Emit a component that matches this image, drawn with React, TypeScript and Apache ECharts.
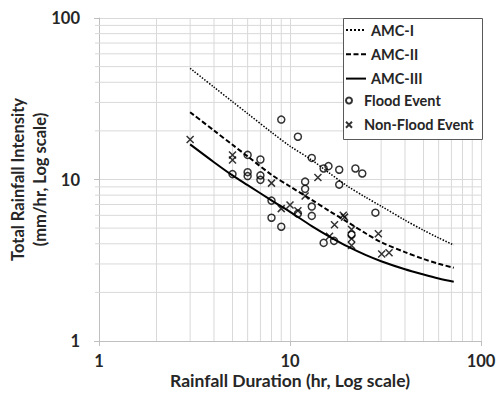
import React, { useEffect, useRef } from "react";
import * as echarts from "echarts";

// Curves (duration in hr, intensity in mm/hr)
const curveX = [3, 4, 5, 6, 8, 10, 13, 16, 20, 25, 30, 40, 50, 60, 72];
const amc1 = [48.8, 37.3, 30.3, 25.6, 19.6, 16.1, 13.2, 11.0, 9.1, 7.74, 6.84, 5.6, 4.85, 4.35, 3.93];
const amc2 = [26.1, 20.1, 16.4, 13.9, 10.7, 9.05, 7.48, 6.4, 5.45, 4.63, 4.09, 3.55, 3.22, 3.01, 2.84];
const amc3 = [16.5, 12.8, 10.6, 9.23, 7.43, 6.3, 5.15, 4.45, 3.85, 3.4, 3.12, 2.78, 2.58, 2.44, 2.33];

// Flood events
const floodX = [9, 11, 13, 15, 15.9, 18.1, 22, 23.9, 18.1, 6, 7, 5, 6, 6, 7, 7, 12, 12, 8, 13, 11, 13, 8, 9, 15, 17, 21, 28];
const floodY = [23.5, 18.4, 13.6, 11.7, 12.1, 11.5, 11.7, 10.9, 9.3, 14.2, 13.3, 10.8, 11.1, 10.5, 10.6, 9.95, 9.7, 8.75, 7.4, 6.8, 6.15, 5.95, 5.8, 5.1, 4.05, 4.17, 4.55, 6.23];

// Non-flood events
const nonFloodX = [3, 5, 5, 8, 9, 10, 11, 12, 14, 17.1, 19, 19.3, 16.1, 21, 21, 21, 29, 30.2, 33];
const nonFloodY = [17.7, 14.2, 13.2, 9.5, 6.6, 6.95, 6.4, 7.9, 10.3, 5.25, 6.0, 5.85, 4.45, 4.9, 4.3, 3.9, 4.62, 3.46, 3.52];

// Minor gridline values
const minorGrid = [2, 3, 4, 5, 6, 7, 8, 9, 20, 30, 40, 50, 60, 70, 80, 90];
const axisMin = 1;
const axisMax = 100;

const FONT = "Lato";
const TXT = "#262626";
const GRID = "#d9d9d9";
const BOX = { x: 343.5, y: 18.5, w: 138, h: 118 };

export default function App() {
  const ref = useRef<HTMLDivElement>(null);
  useEffect(() => {
    if (!ref.current) return;
    const chart = echarts.init(ref.current, undefined, { renderer: "svg" });
    const pair = (xs: number[], ys: number[]) => xs.map((x, i) => [x, ys[i]]);
    const lineSeries = (name: string, ys: number[], type: any, width: number) => ({
      name,
      type: "line",
      data: pair(curveX, ys),
      symbol: "none",
      smooth: 0.3,
      z: 3,
      lineStyle: { color: "#000", width, type },
      itemStyle: { color: "#000" },
    });
    const legendText = {
      fontFamily: FONT,
      fontWeight: "bold",
      fontSize: 14.5,
      color: TXT,
      lineHeight: 14,
      width: 108,
      overflow: "none",
    };
    const boxBottom = BOX.y + BOX.h;
    chart.setOption({
      animation: false,
      backgroundColor: "#fff",
      textStyle: { fontFamily: FONT },
      grid: { left: 99, right: 18, top: 18, bottom: 52, containLabel: false, outerBoundsMode: "none" },
      xAxis: {
        type: "log",
        logBase: 10,
        min: axisMin,
        max: axisMax,
        name: "Rainfall Duration (hr, Log scale)",
        nameLocation: "middle",
        nameGap: 30,
        nameMoveOverlap: false,
        nameTextStyle: { fontFamily: FONT, fontWeight: "bold", fontSize: 17.5, color: TXT },
        axisLine: { lineStyle: { color: "#bfbfbf" } },
        axisTick: { show: true, length: 5, lineStyle: { color: "#bfbfbf" } },
        axisLabel: { fontFamily: FONT, fontWeight: "bold", fontSize: 16.5, color: TXT, margin: 11 },
        splitLine: { show: true, lineStyle: { color: GRID } },
      },
      yAxis: {
        type: "log",
        logBase: 10,
        min: axisMin,
        max: axisMax,
        name: "Total Rainfall Intensity\n(mm/hr, Log scale)",
        nameLocation: "middle",
        nameGap: 48,
        nameMoveOverlap: false,
        nameTextStyle: { fontFamily: FONT, fontWeight: "bold", fontSize: 16.5, color: TXT, lineHeight: 22 },
        axisLine: { show: true, lineStyle: { color: "#bfbfbf" } },
        axisTick: { show: true, length: 5, lineStyle: { color: "#bfbfbf" } },
        axisLabel: { fontFamily: FONT, fontWeight: "bold", fontSize: 16.5, color: TXT, margin: 19 },
        splitLine: { show: true, lineStyle: { color: GRID } },
      },
      legend: [
        {
          data: ["AMC-I", "AMC-II", "AMC-III"],
          orient: "vertical",
          left: BOX.x,
          top: BOX.y,
          padding: [4, 3.5, 53.4, 1.5],
          backgroundColor: "#ffffff",
          borderColor: "#595959",
          borderWidth: 1,
          itemWidth: 20,
          itemHeight: 14,
          itemGap: 9.3,
          itemStyle: { opacity: 0 },
          textStyle: legendText,
          z: 120,
        },
        {
          data: ["Flood Event", "Non-Flood Event"],
          orient: "vertical",
          left: 345,
          top: 93,
          padding: 0,
          itemWidth: 20,
          itemHeight: 6,
          itemGap: 9.3,
          textStyle: legendText,
          z: 121,
        },
      ],
      series: [
        {
          type: "custom",
          name: "minor-grid",
          silent: true,
          z: 1,
          data: minorGrid.map((v) => [v, v]),
          renderItem: (_params: any, api: any) => {
            const v = api.value(0);
            const a = api.coord([v, axisMin]);
            const b = api.coord([v, axisMax]);
            const c = api.coord([axisMin, v]);
            const d = api.coord([axisMax, v]);
            // keep the legend box clear of grid lines
            const vTop = a[0] > BOX.x ? Math.max(b[1], boxBottom) : b[1];
            const hRight = c[1] < boxBottom ? Math.min(d[0], BOX.x) : d[0];
            return {
              type: "group",
              children: [
                { type: "line", shape: { x1: a[0], y1: a[1], x2: b[0], y2: vTop }, style: { stroke: GRID, lineWidth: 1 } },
                { type: "line", shape: { x1: c[0] - 4, y1: c[1], x2: hRight, y2: d[1] }, style: { stroke: GRID, lineWidth: 1 } },
              ],
            };
          },
        },
        lineSeries("AMC-I", amc1, "dotted", 1.5),
        lineSeries("AMC-II", amc2, [5, 2.5], 2),
        lineSeries("AMC-III", amc3, "solid", 2),
        {
          name: "Flood Event",
          type: "scatter",
          data: pair(floodX, floodY),
          symbol: "circle",
          symbolSize: 7,
          z: 4,
          itemStyle: { color: "rgba(255,255,255,0)", borderColor: "#000", borderWidth: 1.5 },
        },
        {
          name: "Non-Flood Event",
          type: "scatter",
          data: pair(nonFloodX, nonFloodY),
          symbol: "path://M0,0L10,10M10,0L0,10",
          symbolSize: 7,
          z: 4,
          itemStyle: { color: "rgba(255,255,255,0)", borderColor: "#000", borderWidth: 1.5 },
        },
      ],
    });
    return () => chart.dispose();
  }, []);
  return (
    <div
      ref={ref}
      style={{ position: "fixed", left: 0, top: 0, width: 499, height: 393, background: "#fff" }}
    />
  );
}
